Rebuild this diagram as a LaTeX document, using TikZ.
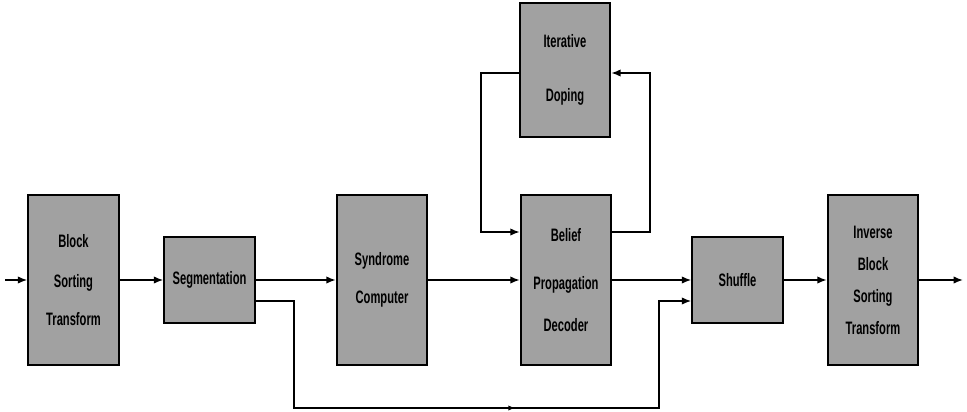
\documentclass[tikz,border=0pt]{standalone}
\usepackage{fontspec}
\usepackage{tikz}
\usetikzlibrary{arrows.meta,decorations.markings}
\newfontfamily\boxfont{Liberation Sans}[FakeStretch=0.62]

\tikzset{
  blk/.style={draw, line width=1.4pt, fill=black!37, align=center, inner sep=0pt,
    font=\fontsize{13.5}{16}\boxfont\bfseries, minimum width=68pt},
  tallblk/.style={blk, minimum height=127.5pt},
  shortblk/.style={blk, minimum height=64.5pt},
  flow/.style={line width=1.1pt, -{Latex[length=7pt,width=5.5pt]}}
}

\begin{document}
\begin{tikzpicture}[x=0.75pt, y=-0.75pt]
  \useasboundingbox (0,0) rectangle (967,411);
  % Blocks
  \node[tallblk] (bst) at (73.5,280) {Block\\[14pt]Sorting\\[12pt]Transform};
  \node[shortblk] (seg) at (209.5,280) {Segmentation};
  \node[tallblk] (syn) at (382,280) {Syndrome\\[12pt]Computer};
  \node[tallblk] (bp) at (566,280) {Belief\\[20pt]Propagation\\[16pt]Decoder};
  \node[blk, minimum height=100.5pt] (id) at (565,70) {Iterative\\[24pt]Doping};
  \node[shortblk] (shuf) at (737.5,280) {Shuffle};
  \node[tallblk] (ibst) at (873,280) {Inverse\\[8pt]Block\\[8pt]Sorting\\[8pt]Transform};
  % Helper coordinates
  \coordinate (in) at (5,280);
  \coordinate (out) at (963,280);
  \coordinate (lo) at (0,301);
  \coordinate (bot) at (0,408);
  \coordinate (fb) at (0,232);
  \coordinate (fbt) at (0,73);
  % Main chain
  \draw[flow] (in) -- (bst.west);
  \draw[flow] (bst.east) -- (seg.west);
  \draw[flow] (seg.east) -- (syn.west);
  \draw[flow] (syn.east) -- (bp.west);
  \draw[flow] (bp.east) -- (shuf.west);
  \draw[flow] (shuf.east) -- (ibst.west);
  \draw[flow] (ibst.east) -- (out);
  % Bypass under the decoder
  \draw[flow, postaction={decorate, decoration={markings,
      mark=at position 0.564 with {\arrow{Latex[length=5pt,width=4pt]}}}}]
    (seg.east |- lo) -| (294,408) -| (659,301) -- (shuf.west |- lo);
  % Doping loop
  \draw[flow] (bp.east |- fb) -| (650,73) -- (id.east |- fbt);
  \draw[flow] (id.west |- fbt) -| (481,232) -- (bp.west |- fb);
\end{tikzpicture}
\end{document}
